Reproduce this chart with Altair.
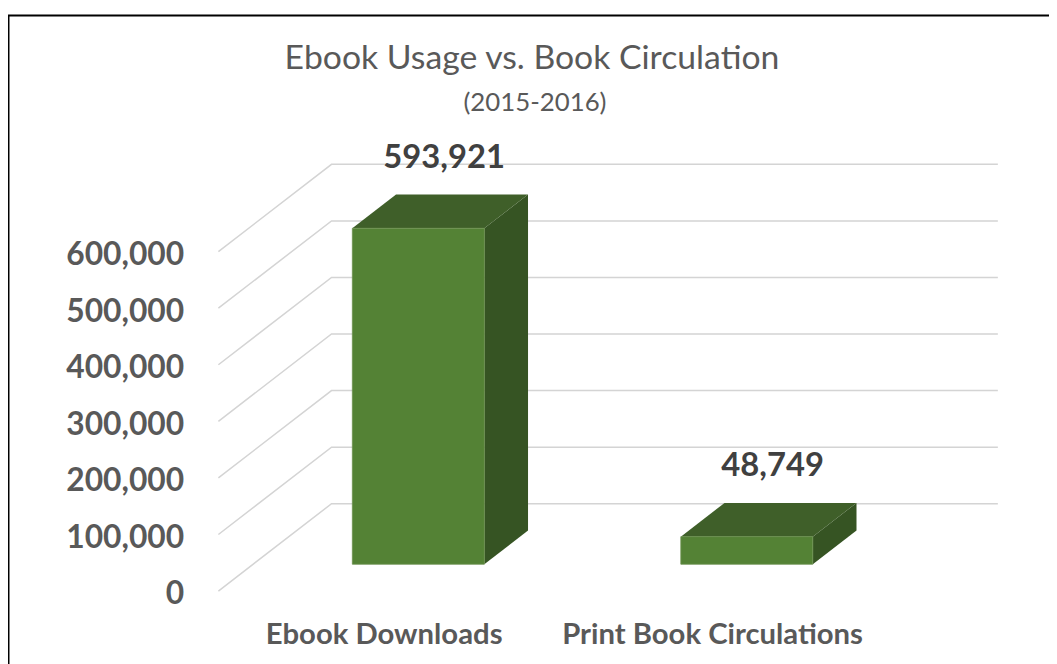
import altair as alt
import pandas as pd

# ---------------- data ----------------
categories = ["Ebook Downloads", "Print Book Circulations"]
values = [593921, 48749]
tick_values = [0, 100000, 200000, 300000, 400000, 500000, 600000]
title_text = "Ebook Usage vs. Book Circulation"
subtitle_text = "(2015-2016)"

# ---------------- projection / layout constants ----------------
W, H = 1049, 656
Y_DOMAIN = [0, 700000]
Y_RANGE = [585, 186]
X_DOMAIN = [0, 1]
X_RANGE = [378.5, 709.5]
YPX = (Y_RANGE[0] - Y_RANGE[1]) / (Y_DOMAIN[1] - Y_DOMAIN[0])
XPX = (X_RANGE[1] - X_RANGE[0]) / (X_DOMAIN[1] - X_DOMAIN[0])
SLANT = 114 / 88          # horizontal shift per pixel of depth
FLOOR_DEPTH = 88          # depth of the floor / back wall (px)
BAR_FRONT, BAR_BACK = 27, 61
BAR_HALF = 66.5 / XPX
GRID_LEFT = -0.503
GRID_RIGHT = 1.87


def dv(d):
    return d / YPX


def du(d):
    return d * SLANT / XPX


# gridlines (front-left -> back wall -> right)
grid_rows = []
for t in tick_values:
    grid_rows += [
        dict(tick=t, seq=0, x=GRID_LEFT, y=t),
        dict(tick=t, seq=1, x=GRID_LEFT + du(FLOOR_DEPTH), y=t + dv(FLOOR_DEPTH)),
        dict(tick=t, seq=2, x=GRID_RIGHT, y=t + dv(FLOOR_DEPTH)),
    ]
grid_df = pd.DataFrame(grid_rows)

front_rows, top_rows, side_rows, label_rows = [], [], [], []
depth = BAR_BACK - BAR_FRONT
for i, (c, v) in enumerate(zip(categories, values)):
    x0 = i + du(BAR_FRONT) - BAR_HALF
    x1 = i + du(BAR_FRONT) + BAR_HALF
    front_rows.append(dict(bar=c, x=x0, x2=x1, y=dv(BAR_FRONT), y2=v + dv(BAR_FRONT)))
    top_rows += [
        dict(bar=c, y=v + dv(BAR_FRONT), x=x0, x2=x1),
        dict(bar=c, y=v + dv(BAR_BACK), x=x0 + du(depth), x2=x1 + du(depth)),
    ]
    side_rows += [
        dict(bar=c, x=x1, y=dv(BAR_FRONT), y2=v + dv(BAR_FRONT)),
        dict(bar=c, x=x1 + du(depth), y=dv(BAR_BACK), y2=v + dv(BAR_BACK)),
    ]
    label_rows.append(dict(bar=c, value=v, x=i + du(BAR_FRONT) + du(depth / 2), y=v + dv(BAR_BACK)))

front_df = pd.DataFrame(front_rows)
top_df = pd.DataFrame(top_rows)
side_df = pd.DataFrame(side_rows)
label_df = pd.DataFrame(label_rows)

xscale = alt.Scale(domain=X_DOMAIN, range=X_RANGE, nice=False, zero=False)
yscale = alt.Scale(domain=Y_DOMAIN, range=Y_RANGE, nice=False, zero=False)

label_expr = "[" + ",".join("'" + c + "'" for c in categories) + "][datum.value]"
xaxis = alt.Axis(values=[0, 1], labelExpr=label_expr, offset=-18, domain=False,
                 ticks=False, tickSize=0, grid=False, labelPadding=0,
                 labelBaseline="alphabetic", labelFont="Lato", labelFontWeight="bold",
                 labelFontSize=29.5, labelColor="#595959", title=None, labelLimit=0,
                 labelFlush=False, labelOverlap=False)
yaxis = alt.Axis(values=tick_values, labelExpr="format(datum.value, ',')", offset=-179,
                 domain=False, ticks=False, tickSize=0, grid=False, labelPadding=2,
                 labelFont="Lato", labelFontWeight="bold", labelFontSize=32,
                 labelColor="#595959", title=None, labelOffset=3, labelLimit=0,
                 labelOverlap=False)

grid = alt.Chart(grid_df).mark_line(color="#d4d4d4", strokeWidth=1.5).encode(
    x=alt.X("x:Q", scale=xscale, axis=xaxis),
    y=alt.Y("y:Q", scale=yscale, axis=yaxis),
    detail="tick:N",
    order="seq:O",
)

side = alt.Chart(side_df).mark_area(orient="vertical", color="#365423").encode(
    x=alt.X("x:Q", scale=xscale, axis=xaxis),
    y=alt.Y("y:Q", scale=yscale, axis=yaxis),
    y2="y2:Q",
    detail="bar:N",
)

top = alt.Chart(top_df).mark_area(orient="horizontal", color="#3f5f29").encode(
    y=alt.Y("y:Q", scale=yscale, axis=yaxis),
    x=alt.X("x:Q", scale=xscale, axis=xaxis),
    x2="x2:Q",
    detail="bar:N",
)

front = alt.Chart(front_df).mark_rect(color="#548235", stroke="#6c9150", strokeWidth=0.8).encode(
    x=alt.X("x:Q", scale=xscale, axis=xaxis),
    x2="x2:Q",
    y=alt.Y("y:Q", scale=yscale, axis=yaxis),
    y2="y2:Q",
)

labels = alt.Chart(label_df).mark_text(
    font="Lato", fontWeight="bold", fontSize=33, color="#404040",
    baseline="alphabetic", dy=-27, dx=4,
).encode(
    x=alt.X("x:Q", scale=xscale, axis=xaxis),
    y=alt.Y("y:Q", scale=yscale, axis=yaxis),
    text=alt.Text("value:Q", format=","),
)

title = alt.Chart(alt.Data(values=[{"t": title_text}])).mark_text(
    font="Lato", fontSize=34, color="#595959", baseline="alphabetic", align="center",
).encode(text="t:N", x=alt.value(528), y=alt.value(59))

subtitle = alt.Chart(alt.Data(values=[{"t": subtitle_text}])).mark_text(
    font="Lato", fontSize=26, color="#595959", baseline="alphabetic", align="center",
).encode(text="t:N", x=alt.value(531), y=alt.value(101))

border = alt.Chart(alt.Data(values=[{"b": 1}])).mark_rect(
    filled=False, stroke="black", strokeWidth=2,
).encode(x=alt.value(0.5), x2=alt.value(1300), y=alt.value(5), y2=alt.value(900))

chart = alt.layer(grid, side, top, front, labels, title, subtitle, border).properties(
    width=W, height=H, autosize=alt.AutoSizeParams(type="none"), padding=0,
).configure_view(stroke=None)

chart.save("out.html", embed_options={"renderer": "svg", "actions": False})
